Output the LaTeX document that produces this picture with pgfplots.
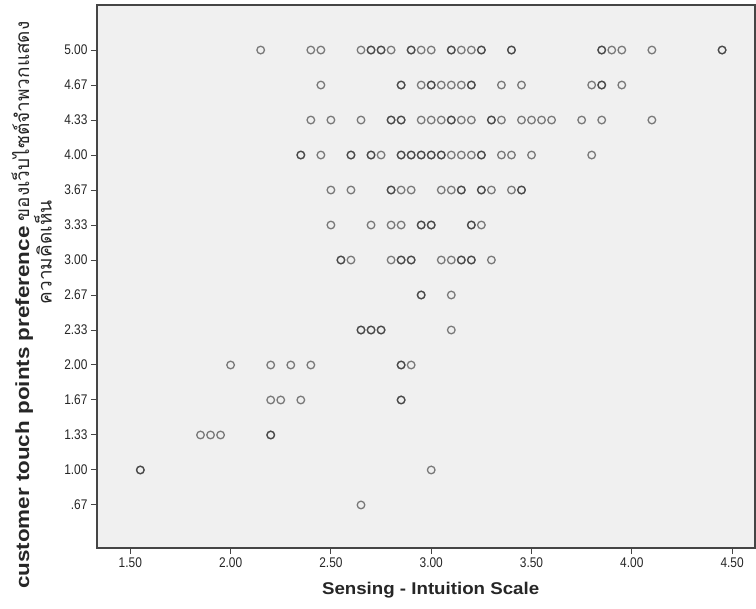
\documentclass[border=0pt]{standalone}
\usepackage{pgfplots}
\pgfplotsset{compat=1.18}
\usepackage{pgfplotstable}
\usepackage{fontspec}
\setmainfont{Liberation Sans}
\newfontfamily\ticfont[FakeStretch=0.85]{Liberation Sans}
\newfontfamily\labfont[FakeStretch=1.1]{Liberation Sans}
\newfontfamily\ylabfont[FakeStretch=1.18]{Liberation Sans}
\newfontfamily\thaifont[Script=Thai]{Loma}
\definecolor{bgray}{HTML}{F0F0F0}
\definecolor{framec}{HTML}{454545}
\definecolor{markc}{HTML}{2A2A2A}

% duplicated rows = overlapping cases (drawn darker)
\pgfplotstableread{
x y
2.15 5
2.40 5
2.45 5
2.65 5
2.70 5
2.70 5
2.75 5
2.75 5
2.80 5
2.90 5
2.90 5
2.95 5
3.00 5
3.10 5
3.10 5
3.15 5
3.20 5
3.25 5
3.25 5
3.40 5
3.40 5
3.85 5
3.85 5
3.90 5
3.95 5
4.10 5
4.45 5
4.45 5
2.45 4.6667
2.85 4.6667
2.85 4.6667
2.95 4.6667
3.00 4.6667
3.00 4.6667
3.05 4.6667
3.10 4.6667
3.15 4.6667
3.20 4.6667
3.20 4.6667
3.35 4.6667
3.45 4.6667
3.80 4.6667
3.85 4.6667
3.85 4.6667
3.95 4.6667
2.40 4.3333
2.50 4.3333
2.65 4.3333
2.80 4.3333
2.80 4.3333
2.85 4.3333
2.85 4.3333
2.95 4.3333
3.00 4.3333
3.05 4.3333
3.10 4.3333
3.10 4.3333
3.15 4.3333
3.20 4.3333
3.30 4.3333
3.30 4.3333
3.35 4.3333
3.45 4.3333
3.50 4.3333
3.55 4.3333
3.60 4.3333
3.75 4.3333
3.85 4.3333
4.10 4.3333
2.35 4
2.35 4
2.45 4
2.60 4
2.60 4
2.70 4
2.70 4
2.75 4
2.85 4
2.85 4
2.90 4
2.90 4
2.95 4
2.95 4
3.00 4
3.00 4
3.05 4
3.05 4
3.10 4
3.15 4
3.20 4
3.25 4
3.25 4
3.35 4
3.40 4
3.50 4
3.80 4
2.50 3.6667
2.60 3.6667
2.80 3.6667
2.80 3.6667
2.85 3.6667
2.90 3.6667
3.05 3.6667
3.10 3.6667
3.15 3.6667
3.15 3.6667
3.25 3.6667
3.25 3.6667
3.30 3.6667
3.40 3.6667
3.45 3.6667
3.45 3.6667
2.50 3.3333
2.70 3.3333
2.80 3.3333
2.85 3.3333
2.95 3.3333
2.95 3.3333
3.00 3.3333
3.00 3.3333
3.20 3.3333
3.20 3.3333
3.25 3.3333
2.55 3
2.55 3
2.60 3
2.80 3
2.85 3
2.85 3
2.90 3
2.90 3
3.05 3
3.10 3
3.15 3
3.15 3
3.20 3
3.20 3
3.30 3
2.95 2.6667
2.95 2.6667
3.10 2.6667
2.65 2.3333
2.65 2.3333
2.70 2.3333
2.70 2.3333
2.75 2.3333
2.75 2.3333
3.10 2.3333
2.00 2
2.20 2
2.30 2
2.40 2
2.85 2
2.85 2
2.90 2
2.20 1.6667
2.25 1.6667
2.35 1.6667
2.85 1.6667
2.85 1.6667
1.85 1.3333
1.90 1.3333
1.95 1.3333
2.20 1.3333
2.20 1.3333
1.55 1
1.55 1
3.00 1
2.65 0.6667
}\scatterdata

\begin{document}
\begin{tikzpicture}
\begin{axis}[
  name=ax,
  scale only axis,
  width=658pt, height=543pt,
  xmin=1.334, xmax=4.614,
  ymin=0.257, ymax=5.429,
  axis background/.style={fill=bgray},
  axis line style={draw=framec, line width=1.2pt},
  xtick={1.5,2,2.5,3,3.5,4,4.5},
  xticklabels={1.50,2.00,2.50,3.00,3.50,4.00,4.50},
  ytick={0.6667,1,1.3333,1.6667,2,2.3333,2.6667,3,3.3333,3.6667,4,4.3333,4.6667,5},
  yticklabels={.67,1.00,1.33,1.67,2.00,2.33,2.67,3.00,3.33,3.67,4.00,4.33,4.67,5.00},
  tick align=outside,
  xtick pos=bottom, ytick pos=left,
  major tick length=6pt,
  tick style={draw=framec, line width=1pt},
  ticklabel style={font=\ticfont\fontsize{14}{16}\selectfont, text=black!85},
  xlabel={Sensing - Intuition Scale},
  xlabel style={font=\labfont\bfseries\fontsize{17}{19}\selectfont, text=black!85,
    at={(rel axis cs:0.507,0)}, anchor=north, yshift=-34pt, inner sep=0pt},
  ylabel={{\ylabfont\bfseries customer touch points preference} {\thaifont ของเว็บไซต์จำพวกแสดง}\\\hspace*{106pt}{\thaifont ความคิดเห็น}},
  ylabel style={font=\fontsize{19}{19.5}\selectfont, text=black!85, align=center,
    at={(rel axis cs:-0.0684,0.447)}, anchor=south, inner sep=0pt},
]
\addplot[only marks, mark=o, mark size=3.8pt,
  mark options={draw=markc, draw opacity=0.6, line width=1.3pt}]
  table[x=x, y=y] {\scatterdata};
\end{axis}
\pgfresetboundingbox
\path (ax.south west) ++(-97pt,-61pt) rectangle ++(756pt,609pt);
\end{tikzpicture}
\end{document}
